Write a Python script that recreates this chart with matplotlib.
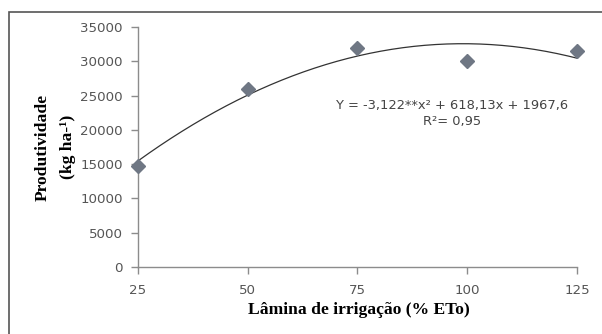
import matplotlib
matplotlib.use("Agg")
import matplotlib.pyplot as plt
import numpy as np
from matplotlib.patches import Rectangle

# Dados de produtividade por lâmina de irrigação
laminas = [25, 50, 75, 100, 125]
produtividade = [14800, 25900, 31900, 30100, 31500]
coef = [-3.122, 618.13, 1967.6]  # ajuste quadrático
equacao = "Y = -3,122**x² + 618,13x + 1967,6"
r2_texto = "R²= 0,95"
yticks = [0, 5000, 10000, 15000, 20000, 25000, 30000, 35000]

W, H = 602, 334
fig = plt.figure(figsize=(W / 100, H / 100), dpi=100)
fig.patch.set_facecolor("white")

# moldura externa
fig.patches.append(Rectangle((9 / W, -0.1), 1.2, 1 - 12 / H + 0.1, transform=fig.transFigure,
                             fill=False, edgecolor="#555555", linewidth=1.2))

ax = fig.add_axes([138 / W, 1 - 267 / H, (577 - 138) / W, (267 - 27) / H])

cinza = "#8c8c8c"
for s in ["top", "right"]:
    ax.spines[s].set_visible(False)
for s in ["left", "bottom"]:
    ax.spines[s].set_color(cinza)
    ax.spines[s].set_linewidth(1.0)

xs = np.linspace(25, 125, 200)
ax.plot(xs, np.polyval(coef, xs), color="#333333", linewidth=0.9, zorder=2)
ax.plot(laminas, produtividade, linestyle="none", marker="D", markersize=7.5,
        color="#6f7784", clip_on=False, zorder=3)

ax.set_xlim(25, 125)
ax.set_ylim(0, 35000)
ax.set_xticks(laminas)
ax.set_yticks(yticks)
ax.tick_params(axis="both", direction="out", length=5, width=1, color=cinza,
               labelsize=9.6, labelcolor="#555555")
ax.tick_params(axis="y", pad=6)
ax.tick_params(axis="x", pad=7)
for lab in ax.get_xticklabels() + ax.get_yticklabels():
    lab.set_family("DejaVu Sans")

ax.text(452 / W, 1 - 105 / H, equacao, transform=fig.transFigure, ha="center", va="center",
        fontsize=9.4, color="#444444", family="DejaVu Sans")
ax.text(452 / W, 1 - 122 / H, r2_texto, transform=fig.transFigure, ha="center", va="center",
        fontsize=9.4, color="#444444", family="DejaVu Sans")

serif = {"family": "Liberation Serif", "weight": "bold", "size": 12.6, "color": "black"}
fig.text(43 / W, 1 - 147 / H, "Produtividade", rotation=90, ha="center", va="center", **serif)
fig.text(68 / W, 1 - 147 / H, "(kg ha-¹)", rotation=90, ha="center", va="center", **serif)
fig.text(359 / W, 1 - 310 / H, "Lâmina de irrigação (% ETo)", ha="center", va="center", **serif)

fig.savefig("out.png", dpi=100)
